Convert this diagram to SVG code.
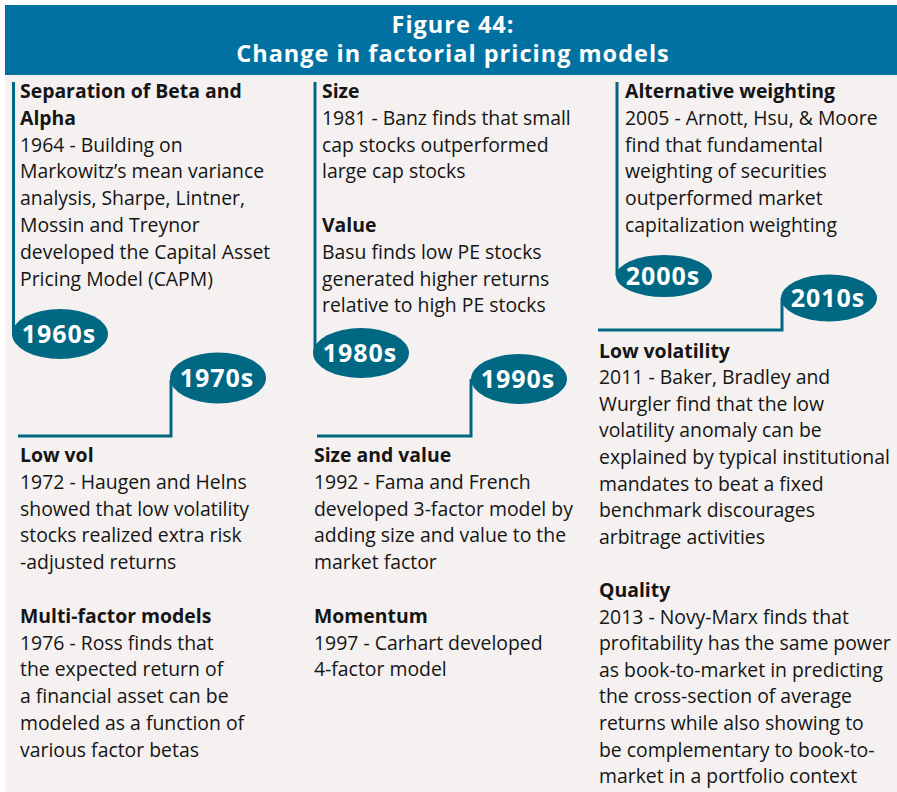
<svg xmlns="http://www.w3.org/2000/svg" width="897" height="792" viewBox="0 0 897 792">
<style>
.t{font-family:"Open Sans","Noto Sans","Liberation Sans",sans-serif;font-size:19.4px;fill:#151515}
.b{font-weight:bold}
.ttl{font-family:"Open Sans","Noto Sans","Liberation Sans",sans-serif;font-size:23.5px;font-weight:bold;fill:#ffffff;text-anchor:middle;letter-spacing:1px}
.dec{fill:#006882}
.dt{font-family:"Open Sans","Noto Sans","Liberation Sans",sans-serif;font-size:25px;font-weight:bold;fill:#ffffff;text-anchor:middle;letter-spacing:1px}
.ln{fill:none;stroke:#006882;stroke-width:3}
</style>
<rect x="0" y="0" width="897" height="792" fill="#ffffff"/>
<rect x="5" y="75" width="892" height="717" fill="#F4F1F0"/>
<g id="header">
<rect x="5" y="5" width="892" height="70" fill="#0071A1"/>
<text class="ttl" x="453" y="33">Figure 44:</text>
<text class="ttl" x="453" y="62">Change in factorial pricing models</text>
</g>
<g id="connectors">
<polyline class="ln" points="13.5,82 13.5,334"/>
<polyline class="ln" points="18,436 171,436 171,380"/>
<polyline class="ln" points="315,82 315,353"/>
<polyline class="ln" points="317,436 471,436 471,379"/>
<polyline class="ln" points="617,82 617,276"/>
<polyline class="ln" points="598,330 782,330 782,298"/>
</g>
<g id="d1960s"><ellipse class="dec" cx="60" cy="334" rx="48" ry="25"/><text class="dt" x="59" y="343">1960s</text></g>
<g id="d1970s"><ellipse class="dec" cx="218" cy="378" rx="48" ry="25.5"/><text class="dt" x="217" y="387">1970s</text></g>
<g id="d1980s"><ellipse class="dec" cx="361" cy="353" rx="48" ry="25"/><text class="dt" x="360" y="362">1980s</text></g>
<g id="d1990s"><ellipse class="dec" cx="519" cy="379" rx="48" ry="25"/><text class="dt" x="518" y="388">1990s</text></g>
<g id="d2000s"><ellipse class="dec" cx="664" cy="276" rx="48" ry="21"/><text class="dt" x="663" y="285">2000s</text></g>
<g id="d2010s"><ellipse class="dec" cx="829" cy="298" rx="48" ry="23.5"/><text class="dt" x="828" y="307">2010s</text></g>
<g id="n-beta-alpha">
<text class="t b" x="20" y="98">Separation of Beta and</text>
<text class="t b" x="20" y="124.8">Alpha</text>
<text class="t" x="20" y="151.6">1964 - Building on</text>
<text class="t" x="20" y="178.4">Markowitz’s mean variance</text>
<text class="t" x="20" y="205.2">analysis, Sharpe, Lintner,</text>
<text class="t" x="20" y="232">Mossin and Treynor</text>
<text class="t" x="20" y="258.8">developed the Capital Asset</text>
<text class="t" x="20" y="285.6">Pricing Model (CAPM)</text>
</g>
<g id="n-size-value">
<text class="t b" x="322" y="98">Size</text>
<text class="t" x="322" y="124.8">1981 - Banz finds that small</text>
<text class="t" x="322" y="151.6">cap stocks outperformed</text>
<text class="t" x="322" y="178.4">large cap stocks</text>
<text class="t b" x="322" y="232">Value</text>
<text class="t" x="322" y="258.8">Basu finds low PE stocks</text>
<text class="t" x="322" y="285.6">generated higher returns</text>
<text class="t" x="322" y="312.4">relative to high PE stocks</text>
</g>
<g id="n-alt-weighting">
<text class="t b" x="625" y="98">Alternative weighting</text>
<text class="t" x="625" y="124.8">2005 - Arnott, Hsu, &amp; Moore</text>
<text class="t" x="625" y="151.6">find that fundamental</text>
<text class="t" x="625" y="178.4">weighting of securities</text>
<text class="t" x="625" y="205.2">outperformed market</text>
<text class="t" x="625" y="232">capitalization weighting</text>
</g>
<g id="n-lowvol-multifactor">
<text class="t b" x="20" y="462">Low vol</text>
<text class="t" x="20" y="488.8">1972 - Haugen and Helns</text>
<text class="t" x="20" y="515.6">showed that low volatility</text>
<text class="t" x="20" y="542.4">stocks realized extra risk</text>
<text class="t" x="20" y="569.2">-adjusted returns</text>
<text class="t b" x="20" y="622.8">Multi-factor models</text>
<text class="t" x="20" y="649.6">1976 - Ross finds that</text>
<text class="t" x="20" y="676.4">the expected return of</text>
<text class="t" x="20" y="703.2">a financial asset can be</text>
<text class="t" x="20" y="730">modeled as a function of</text>
<text class="t" x="20" y="756.8">various factor betas</text>
</g>
<g id="n-sizevalue-momentum">
<text class="t b" x="314" y="462">Size and value</text>
<text class="t" x="314" y="488.8">1992 - Fama and French</text>
<text class="t" x="314" y="515.6">developed 3-factor model by</text>
<text class="t" x="314" y="542.4">adding size and value to the</text>
<text class="t" x="314" y="569.2">market factor</text>
<text class="t b" x="314" y="622.8">Momentum</text>
<text class="t" x="314" y="649.6">1997 - Carhart developed</text>
<text class="t" x="314" y="676.4">4-factor model</text>
</g>
<g id="n-lowvolatility-quality">
<text class="t b" x="599" y="357.5">Low volatility</text>
<text class="t" x="599" y="384.1">2011 - Baker, Bradley and</text>
<text class="t" x="599" y="410.7">Wurgler find that the low</text>
<text class="t" x="599" y="437.3">volatility anomaly can be</text>
<text class="t" x="599" y="463.9">explained by typical institutional</text>
<text class="t" x="599" y="490.5">mandates to beat a fixed</text>
<text class="t" x="599" y="517.1">benchmark discourages</text>
<text class="t" x="599" y="543.7">arbitrage activities</text>
<text class="t b" x="599" y="596.9">Quality</text>
<text class="t" x="599" y="623.5">2013 - Novy-Marx finds that</text>
<text class="t" x="599" y="650.1">profitability has the same power</text>
<text class="t" x="599" y="676.7">as book-to-market in predicting</text>
<text class="t" x="599" y="703.3">the cross-section of average</text>
<text class="t" x="599" y="729.9">returns while also showing to</text>
<text class="t" x="599" y="756.5">be complementary to book-to-</text>
<text class="t" x="599" y="783.1">market in a portfolio context</text>
</g>
</svg>
